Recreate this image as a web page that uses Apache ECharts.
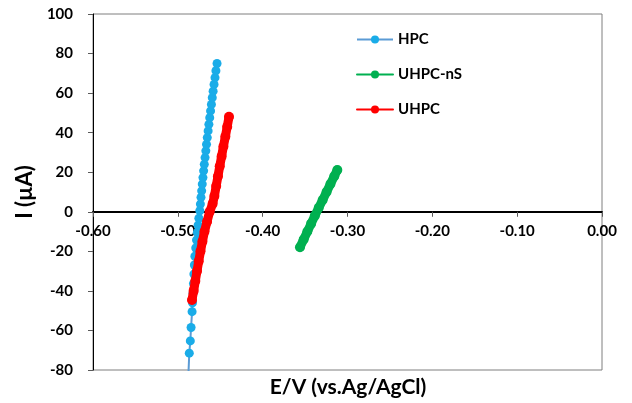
<!DOCTYPE html>
<html>
<head>
<meta charset="utf-8">
<script src="https://cdn.jsdelivr.net/npm/echarts@6/dist/echarts.min.js"></script>
<style>
  html, body { margin: 0; padding: 0; background: #fff; }
  #chart { width: 632px; height: 403px; }
</style>
</head>
<body>
<div id="chart"></div>
<script>
// HPC
const hpcE = [-0.4878, -0.4865, -0.4853, -0.4844, -0.4832, -0.4827, -0.4821, -0.4816, -0.4811, -0.4805,
  -0.4799, -0.4789, -0.4780, -0.4770, -0.4761, -0.4752, -0.4741, -0.4734, -0.4727, -0.4719,
  -0.4712, -0.4704, -0.4696, -0.4688, -0.4679, -0.4670, -0.4662, -0.4653, -0.4643, -0.4634,
  -0.4624, -0.4614, -0.4604, -0.4594, -0.4584, -0.4573, -0.4562, -0.4551, -0.4538];
const hpcI = [-85, -71.5, -65.3, -58.5, -50.5, -46.0, -41.2, -36.3, -31.5, -26.9,
  -22.5, -18.3, -14.3, -10.5, -6.8, -3.3, 0.5, 3.9, 7.3, 10.6,
  14.0, 17.3, 20.7, 24.0, 27.4, 30.8, 34.1, 37.5, 40.9, 44.2,
  47.6, 51.0, 54.3, 57.7, 61.0, 64.4, 67.8, 71.3, 75.0];

// UHPC-nS
const nsE = [-0.3560, -0.3517, -0.3473, -0.3429, -0.3385, -0.3339, -0.3293, -0.3247, -0.3201, -0.3156, -0.3120];
const nsI = [-17.9, -14, -10, -6, -2, 2, 6, 10, 14, 18, 21.1];

// UHPC
const uhpcE = [-0.4833, -0.4814, -0.4794, -0.4774, -0.4754, -0.4733, -0.4710, -0.4686, -0.4656, -0.4625,
  -0.4590, -0.4569, -0.4548, -0.4527, -0.4506, -0.4484, -0.4463, -0.4440, -0.4418, -0.4397];
const uhpcI = [-44.6, -40, -35, -30, -25, -20, -15, -10, -5, 0,
  4, 8, 13, 18, 23, 28, 33, 38, 43, 48];

// axis ticks
const xTicks = [-0.6, 0, 0.1];   // min, max, step
const yTicks = [-80, 100, 20];

const seriesNames = ["HPC", "UHPC-nS", "UHPC"];

const zip = (a, b) => a.map((v, i) => [v, b[i]]);

const chart = echarts.init(document.getElementById("chart"), null, { renderer: "canvas" });

const font = "Lato";
const gridTop = 14;
const gridBottom = 33;
const plotHeight = 403 - gridTop - gridBottom;
// shift the x axis up from the bottom edge to the zero line
const zeroOffset = (0 - yTicks[0]) / (yTicks[1] - yTicks[0]) * plotHeight;

const option = {
  animation: false,
  backgroundColor: "#ffffff",
  grid: {
    left: 93,
    right: 30,
    top: gridTop,
    bottom: gridBottom,
    show: true,
    borderColor: "#7f7f7f",
    borderWidth: 1,
  },
  legend: {
    data: seriesNames,
    orient: "vertical",
    left: 351,
    top: 27,
    itemWidth: 36,
    itemHeight: 10,
    itemGap: 20,
    lineStyle: { width: 2 },
    textStyle: { fontFamily: font, fontWeight: "bold", fontSize: 15, color: "#000" },
  },
  graphic: [
    {
      // x axis title under the plot
      type: "text",
      x: 348,
      y: 387,
      style: {
        text: "E/V (vs.Ag/AgCl)",
        font: "bold 21px Lato",
        fill: "#000",
        align: "center",
        verticalAlign: "middle",
      },
    },
  ],
  xAxis: {
    type: "value",
    min: xTicks[0],
    max: xTicks[1],
    interval: xTicks[2],
    position: "bottom",
    offset: -zeroOffset,
    axisLine: { onZero: false, lineStyle: { color: "#000", width: 2 } },
    axisTick: { show: true, length: 5, lineStyle: { color: "#595959" } },
    axisLabel: {
      margin: 12,
      fontFamily: font,
      fontWeight: "bold",
      fontSize: 15,
      color: "#000",
      formatter: (v) => v.toFixed(2),
    },
    splitLine: { show: false },
  },
  yAxis: {
    type: "value",
    min: yTicks[0],
    max: yTicks[1],
    interval: yTicks[2],
    name: "I (µA)",
    nameLocation: "middle",
    nameGap: 52,
    nameTextStyle: { fontFamily: font, fontWeight: "bold", fontSize: 22, color: "#000" },
    axisLine: { show: true, onZero: false, lineStyle: { color: "#000", width: 1 } },
    axisTick: { show: true, length: 5, lineStyle: { color: "#595959" } },
    axisLabel: { margin: 20, fontFamily: font, fontWeight: "bold", fontSize: 15, color: "#000" },
    splitLine: { show: false },
  },
  series: [
    {
      name: "HPC",
      type: "line",
      data: zip(hpcE, hpcI),
      symbol: "circle",
      symbolSize: 9,
      clip: true,
      lineStyle: { color: "#5B9BD5", width: 2 },
      itemStyle: { color: "#1AACE8", borderWidth: 0 },
      z: 2,
    },
    {
      name: "UHPC-nS",
      type: "line",
      data: zip(nsE, nsI),
      symbol: "circle",
      symbolSize: 10,
      lineStyle: { color: "#00B050", width: 9, cap: "round", join: "round" },
      itemStyle: { color: "#00B050", borderWidth: 0 },
      z: 3,
    },
    {
      name: "UHPC",
      type: "line",
      data: zip(uhpcE, uhpcI),
      symbol: "circle",
      symbolSize: 10,
      lineStyle: { color: "#FF0000", width: 9, cap: "round", join: "round" },
      itemStyle: { color: "#FF0000", borderWidth: 0 },
      z: 4,
    },
  ],
};

chart.setOption(option);
</script>
</body>
</html>
